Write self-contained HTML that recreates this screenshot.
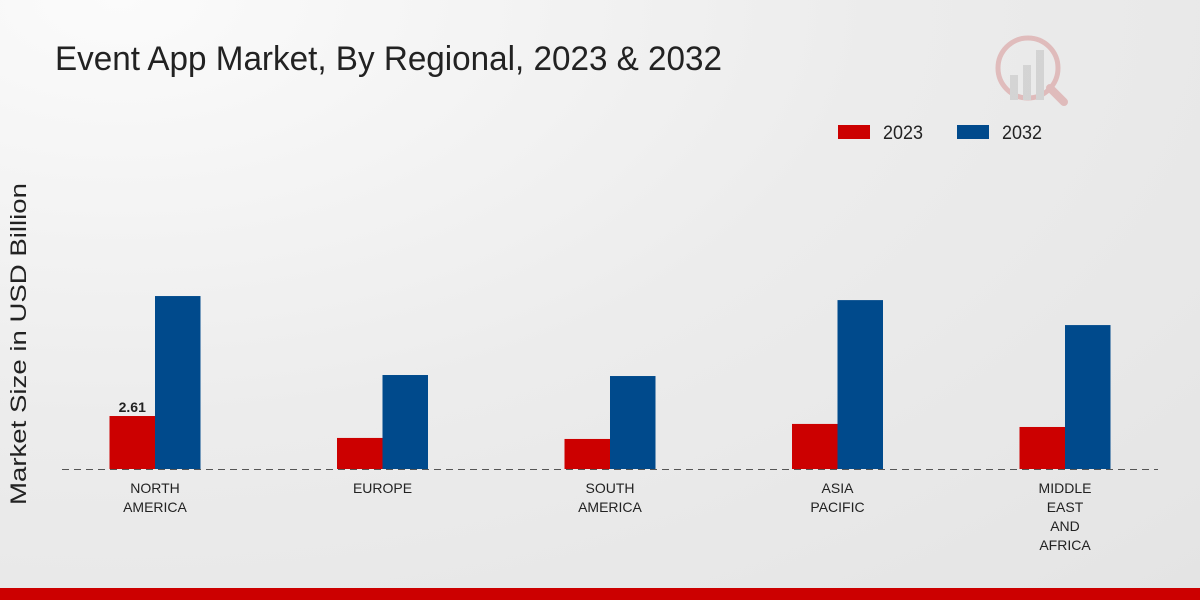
<!DOCTYPE html>
<html><head><meta charset="utf-8"><style>
html,body{margin:0;padding:0;width:1200px;height:600px;overflow:hidden}
body{background:radial-gradient(ellipse at 10% 0%,#fbfbfb 0%,#ececec 50%,#e4e4e4 100%);font-family:"Liberation Sans",sans-serif}
</style></head><body>
<svg id="chart" width="1200" height="600" xmlns="http://www.w3.org/2000/svg">
<text x="55" y="70" font-size="34" fill="#222" textLength="667" lengthAdjust="spacingAndGlyphs">Event App Market, By Regional, 2023 &amp; 2032</text>
<g opacity="0.35">
<circle cx="1028" cy="68" r="30" fill="none" stroke="#c66" stroke-width="5"/>
<rect x="1010" y="75" width="8" height="25" fill="#aaa"/><rect x="1023" y="65" width="8" height="35" fill="#aaa"/><rect x="1036" y="50" width="8" height="50" fill="#aaa"/>
<line x1="1050" y1="88" x2="1064" y2="102" stroke="#c66" stroke-width="8" stroke-linecap="round"/>
</g>
<g>
<rect x="838" y="125" width="32" height="14" fill="#cc0000"/>
<text x="883" y="139" font-size="19" fill="#222" textLength="40" lengthAdjust="spacingAndGlyphs">2023</text>
<rect x="957" y="125" width="32" height="14" fill="#004a8c"/>
<text x="1002" y="139" font-size="19" fill="#222" textLength="40" lengthAdjust="spacingAndGlyphs">2032</text>
</g>
<text transform="translate(26,344) rotate(-90)" text-anchor="middle" font-size="22" fill="#222" textLength="322" lengthAdjust="spacingAndGlyphs">Market Size in USD Billion</text>
<g id="bars"></g>
<line x1="62" y1="469.5" x2="1158" y2="469.5" stroke="#555" stroke-dasharray="7,5" stroke-width="1"/>
<g id="labels"></g>
<rect x="0" y="588" width="1200" height="12" fill="#cc0000"/>
</svg>
<script>
const categories=[["NORTH","AMERICA"],["EUROPE"],["SOUTH","AMERICA"],["ASIA","PACIFIC"],["MIDDLE","EAST","AND","AFRICA"]];
const values2023=[2.61,1.53,1.48,2.22,2.07];
const values2032=[8.52,4.63,4.58,8.32,7.09];
const ns="http://www.w3.org/2000/svg";
const base=469,scale=20.3,x0=155,step=227.5,bw=45.5;
const yS=v=>base-v*scale;
const xS=i=>x0+i*step;
const bars=document.getElementById('bars'),labels=document.getElementById('labels');
function bar(x,v,c,name){const r=document.createElementNS(ns,'rect');
r.setAttribute('x',x);r.setAttribute('y',yS(v));r.setAttribute('width',bw);r.setAttribute('height',base-yS(v));r.setAttribute('fill',c);


bars.appendChild(r);}
categories.forEach((c,i)=>{
bar(xS(i)-bw,values2023[i],'#cc0000','bar-2023-'+i);
bar(xS(i),values2032[i],'#004a8c','bar-2032-'+i);
const t=document.createElementNS(ns,'text');t.setAttribute('text-anchor','middle');t.setAttribute('font-size','14');t.setAttribute('fill','#222');


c.forEach((l,j)=>{const s=document.createElementNS(ns,'tspan');s.setAttribute('x',xS(i));s.setAttribute('y',493+j*19);s.textContent=l;t.appendChild(s);});
labels.appendChild(t);
});
const v=document.createElementNS(ns,'text');v.setAttribute('x',xS(0)-bw/2);v.setAttribute('y',yS(values2023[0])-4);v.setAttribute('text-anchor','middle');v.setAttribute('font-size','14');v.setAttribute('font-weight','bold');v.setAttribute('fill','#222');v.textContent=values2023[0];


labels.appendChild(v);
</script>
</body></html>
